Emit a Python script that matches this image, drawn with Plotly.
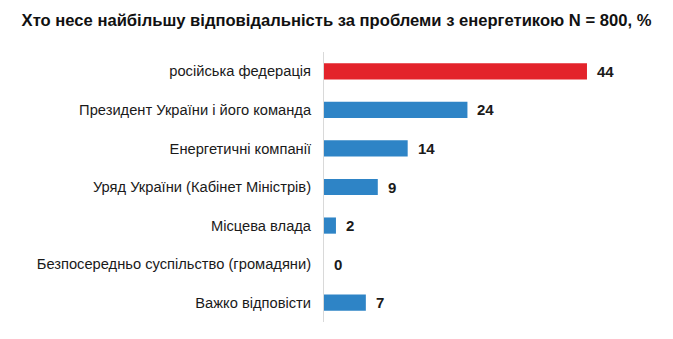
import plotly.graph_objects as go

categories = [
    "російська федерація",
    "Президент України і його команда",
    "Енергетичні компанії",
    "Уряд України (Кабінет Міністрів)",
    "Місцева влада",
    "Безпосередньо суспільство (громадяни)",
    "Важко відповісти",
]
values = [44, 24, 14, 9, 2, 0, 7]
colors = ["#E3232B"] + ["#2E84C6"] * 6
title = "Хто несе найбільшу відповідальність за проблеми з енергетикою N = 800, %"

fig = go.Figure()
fig.add_trace(go.Bar(
    x=values, y=categories, orientation="h",
    marker=dict(color=colors, line=dict(width=0)),
    width=0.42, hoverinfo="skip",
))
for c, v in zip(categories, values):
    fig.add_annotation(x=v, y=c, text=f"<b>{v}</b>", showarrow=False,
                       xanchor="left", xshift=8,
                       font=dict(family="Liberation Sans, Arial", size=15, color="#1a1a1a"))

fig.update_layout(
    width=673, height=339,
    margin=dict(l=324, r=40, t=52, b=17),
    paper_bgcolor="white", plot_bgcolor="white",
    showlegend=False,
    title=dict(text=f"<b>{title}</b>", x=0.5, xanchor="center", y=0.94, yanchor="middle",
               font=dict(family="Liberation Sans, Arial", size=16.6, color="#111")),
    xaxis=dict(range=[0, 51.7], visible=False),
    yaxis=dict(autorange="reversed", showgrid=False, zeroline=False,
               showline=True, linecolor="#d9d9d9", linewidth=1,
               ticks="outside", ticklen=9, tickcolor="rgba(0,0,0,0)",
               tickfont=dict(family="Liberation Sans, Arial", size=14.7, color="#1a1a1a")),
)
fig.write_html("out.html")
